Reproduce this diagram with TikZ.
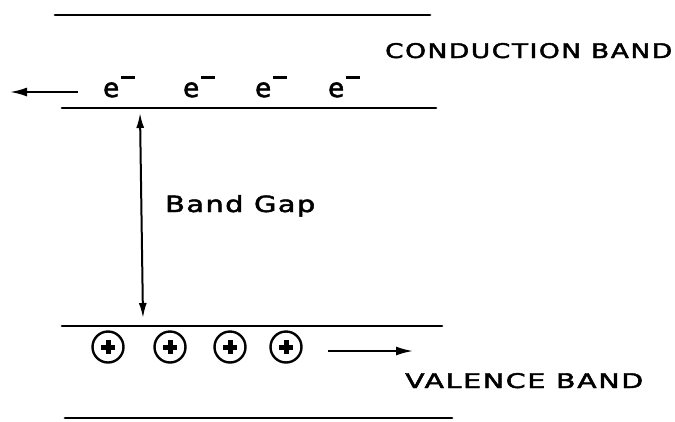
\documentclass[tikz,border=0pt]{standalone}
\usepackage{fontspec}
\setmainfont[FakeBold=2]{DejaVu Sans}
\usetikzlibrary{arrows.meta}
\tikzset{
  band/.style={line width=2.8pt, line cap=round},
  flow/.style={line width=2pt, -{Latex[length=17pt,width=9pt]}},
  gap/.style={line width=2pt, {Latex[length=15pt,width=8pt]}-{Latex[length=15pt,width=8pt]}},
  lbl/.style={anchor=base west, inner sep=0pt},
  elec/.style={anchor=base west, inner sep=0pt, font=\fontsize{26}{26}\selectfont},
  hole/.style={circle, draw, line width=2.4pt, minimum size=31pt, inner sep=0pt,
    path picture={
      \draw[line width=5pt] ([xshift=-7pt]path picture bounding box.center) -- ([xshift=7pt]path picture bounding box.center);
      \draw[line width=5pt] ([yshift=-7pt]path picture bounding box.center) -- ([yshift=7pt]path picture bounding box.center);
    }},
}
\newcommand{\eminus}{e\hspace{2pt}\raisebox{18pt}{\rule{14pt}{2.8pt}}}
\begin{document}
\begin{tikzpicture}[x=1pt,y=-1pt]
\useasboundingbox (0,0) rectangle (675,421);
% band edges
\coordinate (t1) at (55,15);   \coordinate (t2) at (430,15);
\coordinate (c1) at (62,108);  \coordinate (c2) at (436,108);
\coordinate (v1) at (62,326);  \coordinate (v2) at (442,326);
\coordinate (b1) at (65,418);  \coordinate (b2) at (452,418);
\draw[band] (t1) -- (t2);
\draw[band] (c1) -- (c2);
\draw[band] (v1) -- (v2);
\draw[band] (b1) -- (b2);
% labels
\node[lbl] (cb) at (385,58) {\resizebox{287pt}{15pt}{\addfontfeature{LetterSpace=6}CONDUCTION BAND}};
\node[lbl] (vb) at (405,388) {\resizebox{238pt}{15pt}{\addfontfeature{LetterSpace=6}VALENCE BAND}};
\node[lbl] (bg) at (165,212) {\resizebox{150pt}{17pt}{\addfontfeature{LetterSpace=5}Band Gap}};
% electrons
\node[elec] (e1) at (103,97) {\eminus};
\node[elec] (e2) at (183,97) {\eminus};
\node[elec] (e3) at (255,97) {\eminus};
\node[elec] (e4) at (328,97) {\eminus};
% holes
\node[hole] (h1) at (108,347) {};
\node[hole] (h2) at (170,347) {};
\node[hole] (h3) at (230,347) {};
\node[hole] (h4) at (286,347) {};
% arrows
\coordinate (la1) at (78,92);  \coordinate (la2) at (10,92);
\draw[flow] (la1) -- (la2);
\coordinate (ra1) at (328,351); \coordinate (ra2) at (413,351);
\draw[flow] (ra1) -- (ra2);
\coordinate (g1) at (140,113); \coordinate (g2) at (143,318);
\draw[gap] (g1) -- (g2);
\end{tikzpicture}
\end{document}
